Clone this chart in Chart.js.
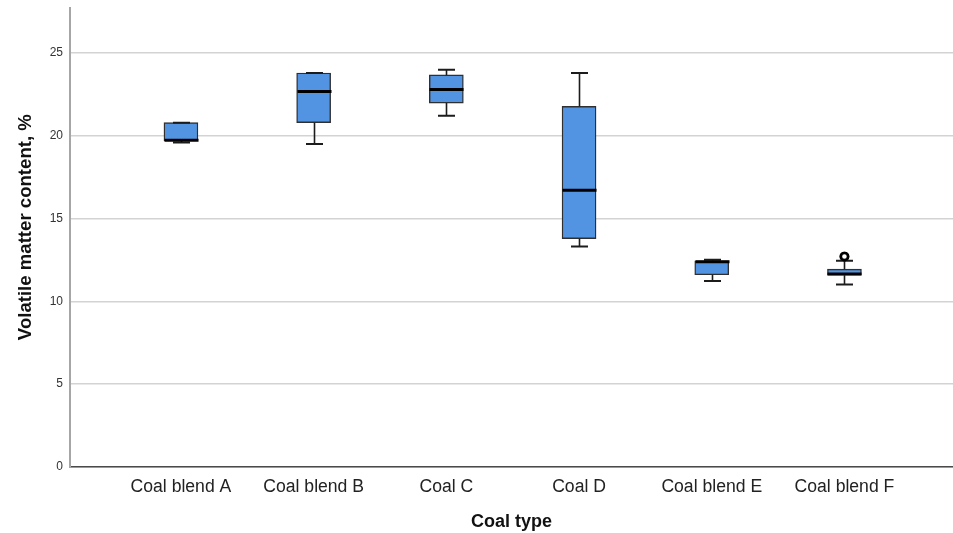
<!DOCTYPE html>
<html>
<head>
<meta charset="utf-8">
<script src="https://cdn.jsdelivr.net/npm/chart.js@4.4.1/dist/chart.umd.min.js"></script>
<style>
  html, body { margin: 0; padding: 0; background: #ffffff; }
  #wrap { width: 953px; height: 533px; position: relative; }
</style>
</head>
<body>
<div id="wrap"><canvas id="chart" width="953" height="533"></canvas></div>
<script>
// Volatile matter content by coal type (five-number summaries, %)
const categories = ['Coal blend A', 'Coal blend B', 'Coal C', 'Coal D', 'Coal blend E', 'Coal blend F'];
const whiskerLow  = [19.58, 19.5, 21.2, 13.3, 11.22, 11.02];
const quartile1   = [19.7, 20.78, 21.96, 13.78, 11.6, 11.57];
const medians     = [19.72, 22.66, 22.78, 16.7, 12.38, 11.65];
const quartile3   = [20.78, 23.78, 23.66, 21.76, 12.44, 11.94];
const whiskerHigh = [20.78, 23.78, 23.98, 23.78, 12.5, 12.44];
const outlierCategory = [6];
const outlierValues   = [12.7];
const yTicks = [0, 5, 10, 15, 20, 25];

const positions = categories.map((_, i) => i + 1);

// Whiskers, caps and median lines drawn on top of the boxes
const boxExtras = {
  id: 'boxExtras',
  afterDatasetsDraw(chart) {
    const { ctx, scales: { x, y } } = chart;
    const boxHalf = 17, capHalf = 8.5;
    ctx.save();
    positions.forEach((p, i) => {
      const cx = Math.round(x.getPixelForValue(p)) + 0.5;
      const yMin = y.getPixelForValue(whiskerLow[i]);
      const yQ1 = y.getPixelForValue(quartile1[i]);
      const yQ3 = y.getPixelForValue(quartile3[i]);
      const yMax = y.getPixelForValue(whiskerHigh[i]);
      const yMed = y.getPixelForValue(medians[i]);
      ctx.strokeStyle = '#1c1c1c';
      ctx.lineWidth = 1.6;
      ctx.beginPath();
      if (yMin - yQ1 > 0.5) { ctx.moveTo(cx, yQ1); ctx.lineTo(cx, yMin); }
      if (yQ3 - yMax > 0.5) { ctx.moveTo(cx, yQ3); ctx.lineTo(cx, yMax); }
      ctx.stroke();
      ctx.lineWidth = 2;
      ctx.beginPath();
      ctx.moveTo(cx - capHalf, yMin); ctx.lineTo(cx + capHalf, yMin);
      ctx.moveTo(cx - capHalf, yMax); ctx.lineTo(cx + capHalf, yMax);
      ctx.stroke();
      ctx.strokeStyle = '#000000';
      ctx.lineWidth = 3;
      ctx.beginPath();
      ctx.moveTo(cx - boxHalf, yMed); ctx.lineTo(cx + boxHalf, yMed);
      ctx.stroke();
    });
    ctx.restore();
    // keep outlier markers above the whisker lines
    const meta = chart.getDatasetMeta(1);
    meta.data.forEach(el => el.draw(ctx));
  }
};

new Chart(document.getElementById('chart'), {
  type: 'bar',
  data: {
    datasets: [
      {
        type: 'bar',
        data: positions.map((p, i) => ({ x: p, y: [quartile1[i], quartile3[i]] })),
        backgroundColor: '#5294e2',
        borderColor: '#2f2f2f',
        borderWidth: 1.4,
        borderSkipped: false,
        barThickness: 34,
        order: 2
      },
      {
        type: 'scatter',
        data: outlierCategory.map((c, i) => ({ x: c, y: outlierValues[i] })),
        pointRadius: 3.6,
        pointBorderWidth: 2.6,
        borderColor: '#000000',
        backgroundColor: '#ffffff',
        order: 1
      }
    ]
  },
  options: {
    responsive: false,
    animation: false,
    layout: { autoPadding: false, padding: { top: 8, right: 0, left: 0, bottom: 0 } },
    plugins: { legend: { display: false }, tooltip: { enabled: false } },
    scales: {
      x: {
        type: 'linear',
        offset: false,
        min: 0.164,
        max: 6.818,
        afterBuildTicks(scale) { scale.ticks = positions.map(v => ({ value: v })); },
        afterFit(scale) { scale.height = 66; scale.paddingRight = 0; scale.paddingLeft = 0; },
        grid: { display: false, drawTicks: false, offset: false },
        border: { display: true, color: '#4a4a4a', width: 1.6 },
        ticks: {
          padding: 10,
          color: '#222222',
          font: { family: 'Liberation Sans, Arial, sans-serif', size: 17.6 },
          callback: (v) => categories[v - 1] || ''
        },
        title: {
          display: true,
          text: 'Coal type',
          color: '#111111',
          font: { family: 'Liberation Sans, Arial, sans-serif', size: 18, weight: 'bold' },
          padding: { top: 4, bottom: 0 }
        }
      },
      y: {
        min: 0,
        max: 27.7,
        afterBuildTicks(scale) { scale.ticks = yTicks.map(v => ({ value: v })); },
        afterFit(scale) { scale.width = 70; scale.paddingTop = 0; scale.paddingBottom = 0; },
        grid: { color: '#d3d3d3', lineWidth: 1.5, drawTicks: false },
        border: { display: true, color: '#a6a6a6', width: 2 },
        ticks: {
          padding: 7,
          color: '#333333',
          font: { family: 'Liberation Sans, Arial, sans-serif', size: 12 }
        },
        title: {
          display: true,
          text: '    Volatile matter content, %',
          color: '#111111',
          font: { family: 'Liberation Sans, Arial, sans-serif', size: 18.6, weight: 'bold' },
          padding: { top: 15, bottom: 0 }
        }
      }
    }
  },
  plugins: [boxExtras]
});
</script>
</body>
</html>
